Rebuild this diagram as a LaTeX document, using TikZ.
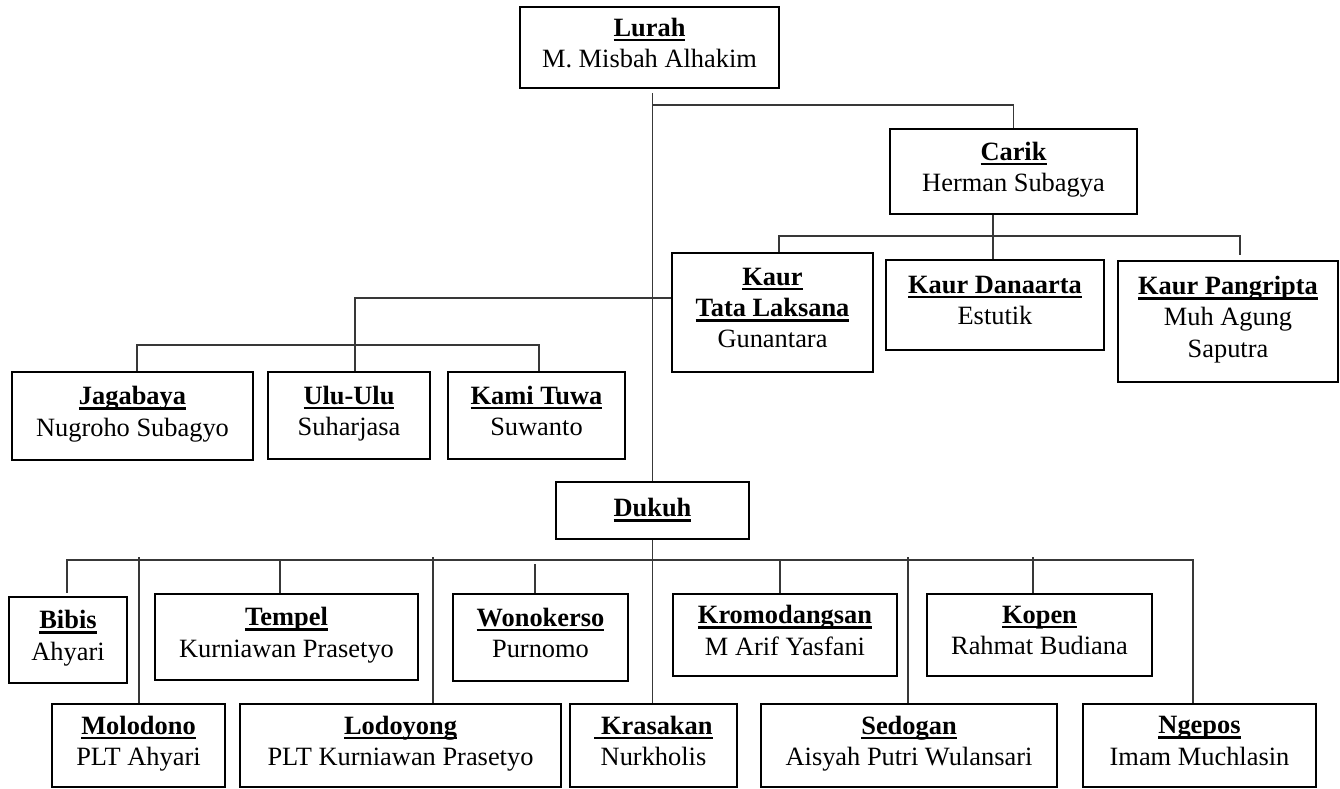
\documentclass[tikz,border=0pt]{standalone}
\usepackage{fontspec}
\setmainfont{Liberation Serif}
\usetikzlibrary{calc}
\newsavebox{\ttlbox}
\newcommand\ttl[1]{\leavevmode\sbox{\ttlbox}{\textbf{#1}}\rlap{\rule[-3.8pt]{\wd\ttlbox}{2pt}}\usebox{\ttlbox}}
\tikzset{
  box/.style={draw=black, line width=2pt, inner sep=0pt, align=center,
    font=\fontsize{19.8pt}{23.4pt}\selectfont,
    execute at begin node=\strut, execute at end node=\strut},
  conn/.style={draw=black!78, line width=1pt}
}
\newcommand\bx[6]{%
  \pgfmathsetmacro\bxw{(#4-#2)*0.75}%
  \pgfmathsetmacro\bxh{(#5-#3)*0.75}%
  \node[box, minimum width=\bxw pt, minimum height=\bxh pt] (#1) at ({(#2+#4)/2},{(#3+#5)/2}) {#6};}
\begin{document}
\begin{tikzpicture}[x=0.75pt,y=-0.75pt]
\useasboundingbox (0,0) rectangle (1340,789);
% boxes
\bx{lurah}{520}{7}{779}{88}{\ttl{Lurah}\\M. Misbah Alhakim}
\bx{carik}{890}{129}{1137}{214}{\ttl{Carik}\\Herman Subagya}
\bx{tata}{672}{253}{873}{372}{\ttl{Kaur}\\\ttl{Tata Laksana}\\Gunantara}
\bx{dana}{886}{260}{1104}{350}{\ttl{Kaur Danaarta}\\Estutik}
\bx{pangr}{1118}{261}{1338}{382}{\ttl{Kaur Pangripta}\\Muh Agung\\Saputra}
\bx{jaga}{12}{372}{253}{460}{\ttl{Jagabaya}\\Nugroho Subagyo}
\bx{ulu}{268}{372}{430}{459}{\ttl{Ulu-Ulu}\\Suharjasa}
\bx{kami}{448}{372}{625}{459}{\ttl{Kami Tuwa}\\Suwanto}
\bx{dukuh}{556}{482}{749}{539}{\ttl{Dukuh}}
\bx{bibis}{9}{597}{127}{683}{\ttl{Bibis}\\Ahyari}
\bx{tempel}{155}{594}{418}{680}{\ttl{Tempel}\\Kurniawan Prasetyo}
\bx{wono}{453}{594}{628}{681}{\ttl{Wonokerso}\\Purnomo}
\bx{kromo}{673}{594}{897}{676}{\ttl{Kromodangsan}\\M Arif Yasfani}
\bx{kopen}{927}{594}{1152}{676}{\ttl{Kopen}\\Rahmat Budiana}
\bx{molo}{52}{704}{225}{787}{\ttl{Molodono}\\PLT Ahyari}
\bx{lodo}{240}{704}{561}{787}{\ttl{Lodoyong}\\PLT Kurniawan Prasetyo}
\bx{kras}{570}{704}{737}{787}{\ttl{\ Krasakan}\\Nurkholis}
\bx{sedo}{761}{704}{1057}{787}{\ttl{Sedogan}\\Aisyah Putri Wulansari}
\bx{ngepos}{1083}{704}{1316}{787}{\ttl{Ngepos}\\Imam Muchlasin}
% junction coordinates
\coordinate (jc) at (652.5,105);
\coordinate (kb) at (993,236);
\coordinate (kl) at (779,236);
\coordinate (kr) at (1240,236);
\coordinate (ut) at (355,298);
\coordinate (hl) at (137,345);
\coordinate (hr) at (539,345);
\coordinate (dl) at (67,560);
\coordinate (dr) at (1193,560);
\coordinate (tp) at (280,560);
\coordinate (wk) at (535,564);
\coordinate (km) at (780,560);
\coordinate (kp) at (1033,557);
\coordinate (ml) at (139,557);
\coordinate (ld) at (433,557);
\coordinate (sd) at (908,557);
% connectors
\draw[conn] ($(lurah.south -| dukuh.north)+(0,4)$) -- (dukuh.north);
\draw[conn] (jc) -| (carik.north);
\draw[conn] (carik.south -| kb) -- (dana.north -| kb);
\draw[conn] (tata.north -| kl) -- (kl) -- (kr) -- ($(pangr.north -| kr)+(0,-5)$);
\draw[conn] (ulu.north -| ut) -- (ut) -- (tata.west |- ut);
\draw[conn] (jaga.north -| hl) -- (hl) -- (hr) -- (kami.north -| hr);
\draw[conn] (dukuh.south) -- (dukuh.south |- kras.north);
\draw[conn] ($(bibis.north -| dl)+(0,-3)$) -- (dl) -- (dr) -- (ngepos.north -| dr);
\draw[conn] (tp) -- (tempel.north -| tp);
\draw[conn] (wk) -- (wono.north -| wk);
\draw[conn] (km) -- (kromo.north -| km);
\draw[conn] (kp) -- (kopen.north -| kp);
\draw[conn] (ml) -- (molo.north -| ml);
\draw[conn] (ld) -- (lodo.north -| ld);
\draw[conn] (sd) -- (sedo.north -| sd);
\end{tikzpicture}
\end{document}
